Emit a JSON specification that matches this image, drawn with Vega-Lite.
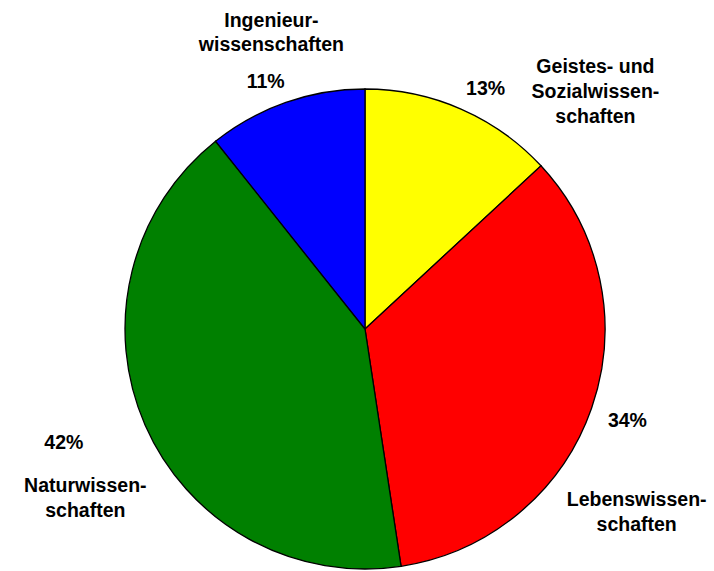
{
  "$schema": "https://vega.github.io/schema/vega-lite/v6.json",
  "autosize": "none",
  "width": 698,
  "height": 482,
  "padding": {"left": 16, "top": 88, "right": 0, "bottom": 0},
  "background": "white",
  "config": {"view": {"stroke": null}},
  "data": {
    "values": [
      {"n": 1, "cat": "Geistes- und Sozialwissenschaften", "name": "Geistes- und\nSozialwissen-\nschaften", "value": 13.1, "pct": "13%"},
      {"n": 2, "cat": "Lebenswissenschaften", "name": "Lebenswissen-\nschaften", "value": 34.5, "pct": "34%"},
      {"n": 3, "cat": "Naturwissenschaften", "name": "Naturwissen-\nschaften", "value": 41.7, "pct": "42%"},
      {"n": 4, "cat": "Ingenieurwissenschaften", "name": "Ingenieur-\nwissenschaften", "value": 10.7, "pct": "11%"}
    ]
  },
  "encoding": {
    "theta": {"field": "value", "type": "quantitative", "stack": true},
    "order": {"field": "n", "type": "quantitative"}
  },
  "layer": [
    {
      "mark": {"type": "arc", "outerRadius": 240, "stroke": "black", "strokeWidth": 1.3},
      "encoding": {
        "color": {
          "field": "cat",
          "type": "nominal",
          "scale": {
            "domain": ["Geistes- und Sozialwissenschaften", "Lebenswissenschaften", "Naturwissenschaften", "Ingenieurwissenschaften"],
            "range": ["#FFFF00", "#FF0000", "#008000", "#0000FF"]
          },
          "legend": null
        }
      }
    },
    {
      "mark": {"type": "text", "radius": 269, "dx": 13, "dy": 7, "font": "Liberation Sans", "fontWeight": "bold", "fontSize": 19.5, "align": "center", "baseline": "middle", "color": "black"},
      "encoding": {"text": {"condition": {"test": "datum.n === 1", "field": "pct", "type": "nominal"}, "value": ""}}
    },
    {
      "mark": {"type": "text", "radius": 278, "dx": 0, "dy": 0, "font": "Liberation Sans", "fontWeight": "bold", "fontSize": 19.5, "align": "center", "baseline": "middle", "color": "black"},
      "encoding": {"text": {"condition": {"test": "datum.n === 2", "field": "pct", "type": "nominal"}, "value": ""}}
    },
    {
      "mark": {"type": "text", "radius": 322, "dx": -6, "dy": -15, "font": "Liberation Sans", "fontWeight": "bold", "fontSize": 19.5, "align": "center", "baseline": "middle", "color": "black"},
      "encoding": {"text": {"condition": {"test": "datum.n === 3", "field": "pct", "type": "nominal"}, "value": ""}}
    },
    {
      "mark": {"type": "text", "radius": 268, "dx": -11, "dy": 6, "font": "Liberation Sans", "fontWeight": "bold", "fontSize": 19.5, "align": "center", "baseline": "middle", "color": "black"},
      "encoding": {"text": {"condition": {"test": "datum.n === 4", "field": "pct", "type": "nominal"}, "value": ""}}
    },
    {
      "mark": {"type": "text", "radius": 331, "dx": 98, "dy": 41, "lineBreak": "\n", "lineHeight": 25, "font": "Liberation Sans", "fontWeight": "bold", "fontSize": 19.5, "align": "center", "baseline": "middle", "color": "black"},
      "encoding": {"text": {"condition": {"test": "datum.n === 1", "field": "name", "type": "nominal"}, "value": ""}}
    },
    {
      "mark": {"type": "text", "radius": 328, "dx": -38, "dy": 63, "lineBreak": "\n", "lineHeight": 25, "font": "Liberation Sans", "fontWeight": "bold", "fontSize": 19.5, "align": "center", "baseline": "middle", "color": "black"},
      "encoding": {"text": {"condition": {"test": "datum.n === 2", "field": "name", "type": "nominal"}, "value": ""}}
    },
    {
      "mark": {"type": "text", "radius": 327, "dx": 20, "dy": 26, "lineBreak": "\n", "lineHeight": 25, "font": "Liberation Sans", "fontWeight": "bold", "fontSize": 19.5, "align": "center", "baseline": "middle", "color": "black"},
      "encoding": {"text": {"condition": {"test": "datum.n === 3", "field": "name", "type": "nominal"}, "value": ""}}
    },
    {
      "mark": {"type": "text", "radius": 311, "dx": 9, "dy": -14, "lineBreak": "\n", "lineHeight": 24, "font": "Liberation Sans", "fontWeight": "bold", "fontSize": 19.5, "align": "center", "baseline": "middle", "color": "black"},
      "encoding": {"text": {"condition": {"test": "datum.n === 4", "field": "name", "type": "nominal"}, "value": ""}}
    }
  ]
}
